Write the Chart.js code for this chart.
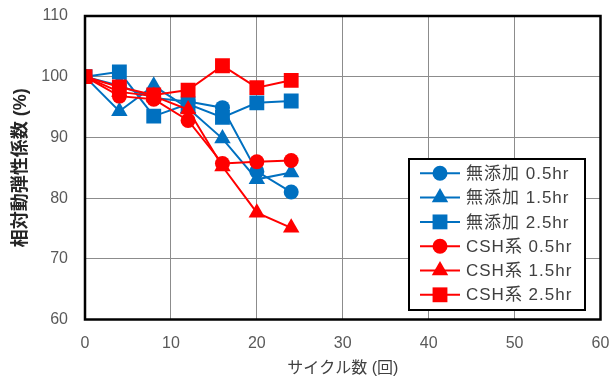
<!DOCTYPE html>
<html>
<head>
<meta charset="utf-8">
<script src="https://cdn.jsdelivr.net/npm/chart.js@4"></script>
<style>
  html, body { margin: 0; padding: 0; background: #fff; }
  #wrap { width: 613px; height: 387px; }
</style>
</head>
<body>
<div id="wrap"><canvas id="chart" width="613" height="387"></canvas></div>
<script>
// ── Data ──────────────────────────────────────────────────────────────────────
const cycles = [0, 4, 8, 12, 16, 20, 24];
const xTicks = [0, 10, 20, 30, 40, 50, 60];
const yTicks = [60, 70, 80, 90, 100, 110];

const seriesLabels = [
  '無添加 0.5hr', '無添加 1.5hr', '無添加 2.5hr',
  'CSH系 0.5hr', 'CSH系 1.5hr', 'CSH系 2.5hr',
];
const plain05 = [100, 98.5, 96.5, 95.9, 94.9, 84.4, 81.0];
const plain15 = [100, 94.3, 98.5, 94.8, 89.8, 83.1, 84.2];
const plain25 = [100, 100.8, 93.5, 95.5, 93.3, 95.7, 96.0];
const csh05   = [100, 96.8, 96.3, 92.8, 85.7, 86.0, 86.2];
const csh15   = [100, 97.5, 96.8, 94.6, 85.2, 77.6, 75.1];
const csh25   = [100, 98.3, 97.0, 97.8, 101.8, 98.2, 99.4];

const BLUE = '#0070C0';
const RED  = '#FF0000';
const FONT = "'Liberation Sans', 'Noto Sans CJK JP', sans-serif";

// ── Dataset builder ──────────────────────────────────────────────────────────
function makeSet(i, values, color, style, radius) {
  return {
    label: seriesLabels[i],
    data: cycles.map((c, k) => ({ x: c, y: values[k] })),
    borderColor: color,
    backgroundColor: color,
    borderWidth: 2,
    pointStyle: style,
    pointRadius: radius,
    pointBorderWidth: 0,
    pointBackgroundColor: color,
    tension: 0,
    order: 5 - i,
  };
}

const datasets = [
  makeSet(0, plain05, BLUE, 'circle', 7.5),
  makeSet(1, plain15, BLUE, 'triangle', 9.5),
  makeSet(2, plain25, BLUE, 'rect', 10.5),
  makeSet(3, csh05,   RED,  'circle', 7.5),
  makeSet(4, csh15,   RED,  'triangle', 9.5),
  makeSet(5, csh25,   RED,  'rect', 10.5),
];

// scales: fixed box size, no extra label overhang padding
function fixBox(size) {
  return (s) => {
    if (s.isHorizontal()) s.height = size; else s.width = size;
    s.paddingTop = s.paddingBottom = s.paddingLeft = s.paddingRight = 0;
  };
}

// ── Plot frame + in-plot legend ──────────────────────────────────────────────
const framePlugin = {
  id: 'frame',
  afterDatasetsDraw(chart) {
    const { ctx, chartArea: a } = chart;
    ctx.save();
    ctx.strokeStyle = '#000';
    ctx.lineWidth = 2.5;
    ctx.strokeRect(a.left, a.top, a.right - a.left, a.bottom - a.top);
    ctx.restore();
  },
};

const legendPlugin = {
  id: 'boxLegend',
  afterDraw(chart) {
    const { ctx } = chart;
    const box = { x: 409, y: 159, w: 176, h: 151 };
    ctx.save();
    ctx.fillStyle = '#fff';
    ctx.fillRect(box.x, box.y, box.w, box.h);
    ctx.strokeStyle = '#000';
    ctx.lineWidth = 2;
    ctx.strokeRect(box.x, box.y, box.w, box.h);

    ctx.font = '17px ' + FONT;
    ctx.letterSpacing = '1px';
    ctx.textBaseline = 'middle';
    ctx.textAlign = 'left';
    chart.data.datasets.forEach((ds, i) => {
      const y = 173.3 + i * 24.3;
      ctx.strokeStyle = ds.borderColor;
      ctx.lineWidth = 2;
      ctx.beginPath();
      ctx.moveTo(420, y);
      ctx.lineTo(460, y);
      ctx.stroke();
      ctx.fillStyle = ds.borderColor;
      Chart.helpers.drawPoint(ctx, {
        pointStyle: ds.pointStyle, radius: ds.pointRadius, rotation: 0, borderWidth: 0,
      }, 440, y);
      ctx.fillStyle = '#404040';
      ctx.fillText(ds.label, 466, y + 1);
    });
    ctx.restore();
  },
};

// ── Chart ────────────────────────────────────────────────────────────────────
new Chart(document.getElementById('chart').getContext('2d'), {
  type: 'line',
  data: { datasets },
  plugins: [framePlugin, legendPlugin],
  options: {
    responsive: false,
    animation: false,
    layout: { padding: { top: 16, right: 12.5, left: 10, bottom: 9 } },
    plugins: { legend: { display: false }, tooltip: { enabled: false } },
    scales: {
      x: {
        type: 'linear',
        min: 0, max: 60,
        afterBuildTicks: (s) => { s.ticks = xTicks.map(v => ({ value: v })); },
        afterFit: fixBox(58.5),
        grid: { color: '#8c8c8c', lineWidth: 1, drawTicks: false },
        border: { display: false },
        ticks: { color: '#595959', font: { family: FONT, size: 16 }, padding: 14 },
        title: {
          display: true, text: 'サイクル数 (回)', color: '#404040',
          font: { family: FONT, size: 16 }, padding: 0,
        },
      },
      y: {
        min: 60, max: 110,
        afterBuildTicks: (s) => { s.ticks = yTicks.map(v => ({ value: v })); },
        afterFit: fixBox(75),
        grid: { color: '#8c8c8c', lineWidth: 1, drawTicks: false },
        border: { display: false },
        ticks: { color: '#595959', font: { family: FONT, size: 16 }, padding: 17 },
        title: {
          display: true, text: '相対動弾性係数 (%)', color: '#262626',
          font: { family: FONT, size: 18, weight: 'bold' }, padding: 0,
        },
      },
    },
  },
});
</script>
</body>
</html>
